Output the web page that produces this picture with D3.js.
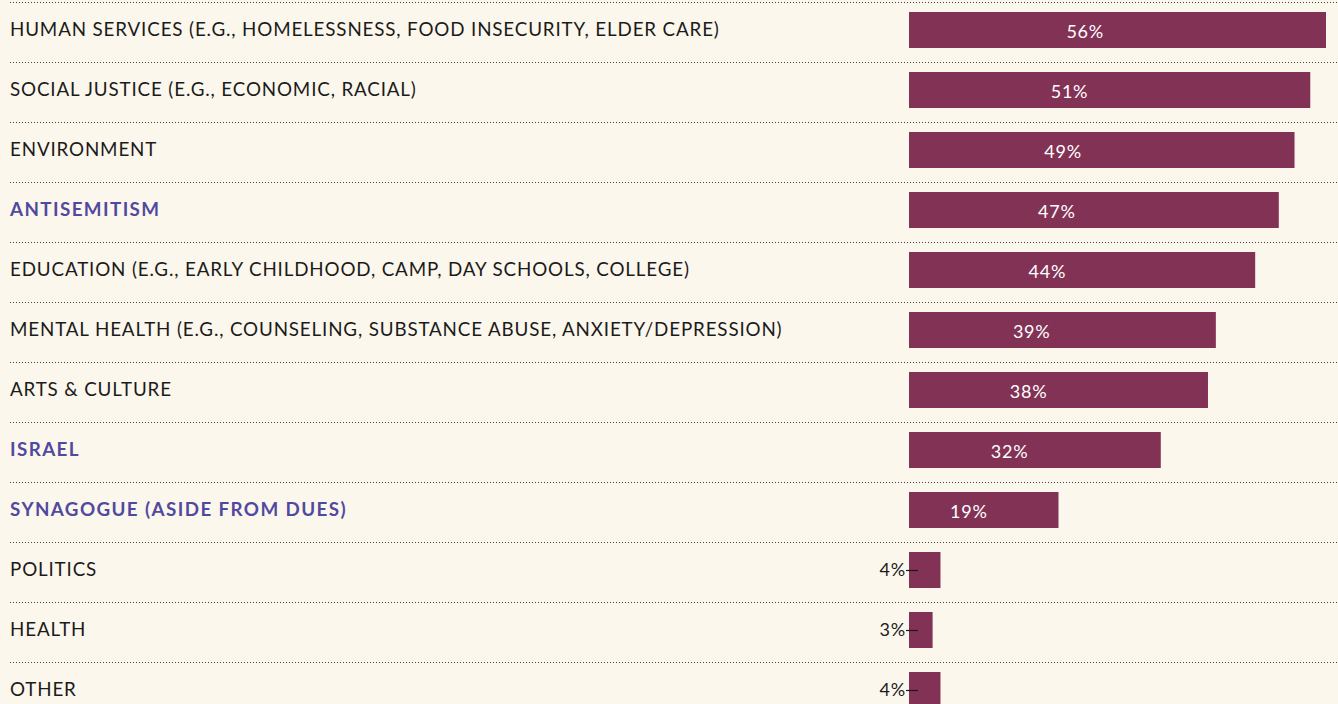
<!DOCTYPE html>
<html lang="en">
<head>
    <meta charset="UTF-8">
    <title>Causes</title>
    <script src="https://cdn.jsdelivr.net/npm/d3@7"></script>
    <style>
        body { margin: 0; background: #fcf7ec; overflow: hidden; }
        .cat { font-family: Lato, sans-serif; font-size: 18.8px; letter-spacing: 0.85px; fill: #1b1b1b; }
        .cat.hl { font-weight: bold; fill: #5149a0; letter-spacing: 1.4px; }
        .val { font-family: Lato, sans-serif; font-size: 18px; letter-spacing: 0.8px; }
    </style>
</head>
<body>
<script>
    // data
    const categories = [
        "HUMAN SERVICES (E.G., HOMELESSNESS, FOOD INSECURITY, ELDER CARE)",
        "SOCIAL JUSTICE (E.G., ECONOMIC, RACIAL)",
        "ENVIRONMENT",
        "ANTISEMITISM",
        "EDUCATION (E.G., EARLY CHILDHOOD, CAMP, DAY SCHOOLS, COLLEGE)",
        "MENTAL HEALTH (E.G., COUNSELING, SUBSTANCE ABUSE, ANXIETY/DEPRESSION)",
        "ARTS & CULTURE",
        "ISRAEL",
        "SYNAGOGUE (ASIDE FROM DUES)",
        "POLITICS",
        "HEALTH",
        "OTHER"
    ];
    const values = [56, 51, 49, 47, 44, 39, 38, 32, 19, 4, 3, 4];
    const highlighted = ["ANTISEMITISM", "ISRAEL", "SYNAGOGUE (ASIDE FROM DUES)"];

    const width = 1338, height = 704;
    const svg = d3.select("body").append("svg")
        .attr("width", width)
        .attr("height", height);

    const data = categories.map((c, i) => ({ cat: c, v: values[i] }));

    // bar area is clipped on the right, so clamp the scale
    const x = d3.scaleLinear().domain([0, 53]).range([909, 1326]).clamp(true);
    const y = d3.scaleBand().domain(categories).range([0, 720])
        .paddingInner(0.4).paddingOuter(0.2);
    const gap = (y.step() - y.bandwidth()) / 2;

    // dotted separators
    svg.selectAll(".sep")
        .data(data)
        .enter().append("line")
        .attr("x1", 10).attr("x2", width)
        .attr("y1", d => y(d.cat) - gap + 2.5)
        .attr("y2", d => y(d.cat) - gap + 2.5)
        .attr("stroke", "#444")
        .attr("stroke-width", 1)
        .attr("stroke-dasharray", "1 2");

    // category labels
    svg.selectAll(".cat")
        .data(data)
        .enter().append("text")
        .attr("class", d => highlighted.includes(d.cat) ? "cat hl" : "cat")
        .attr("x", 10)
        .attr("y", d => y(d.cat) + y.bandwidth() / 2 + 6)
        .text(d => d.cat);

    // bars
    svg.selectAll(".bar")
        .data(data)
        .enter().append("rect")
        .attr("x", x(0))
        .attr("y", d => y(d.cat))
        .attr("width", d => x(d.v) - x(0))
        .attr("height", y.bandwidth())
        .attr("fill", "#823255");

    const big = data.filter(d => d.v >= 10);
    const small = data.filter(d => d.v < 10);

    svg.selectAll(".val-in")
        .data(big)
        .enter().append("text")
        .attr("class", "val")
        .attr("x", d => x(d.v * 0.4))
        .attr("y", d => y(d.cat) + y.bandwidth() / 2 + 8)
        .attr("text-anchor", "middle")
        .attr("fill", "#fff")
        .text(d => d.v + "%");

    // small values sit left of the bar with a leader tick
    svg.selectAll(".val-out")
        .data(small)
        .enter().append("text")
        .attr("class", "val")
        .attr("x", x(0) - 3)
        .attr("y", d => y(d.cat) + y.bandwidth() / 2 + 6)
        .attr("text-anchor", "end")
        .attr("fill", "#1b1b1b")
        .text(d => d.v + "%");

    svg.selectAll(".lead")
        .data(small)
        .enter().append("line")
        .attr("x1", x(0) - 3).attr("x2", x(0) + 9)
        .attr("y1", d => y(d.cat) + y.bandwidth() / 2 + 0.5)
        .attr("y2", d => y(d.cat) + y.bandwidth() / 2 + 0.5)
        .attr("stroke", "#1b1b1b")
        .attr("stroke-width", 1.2);
</script>
</body>
</html>
